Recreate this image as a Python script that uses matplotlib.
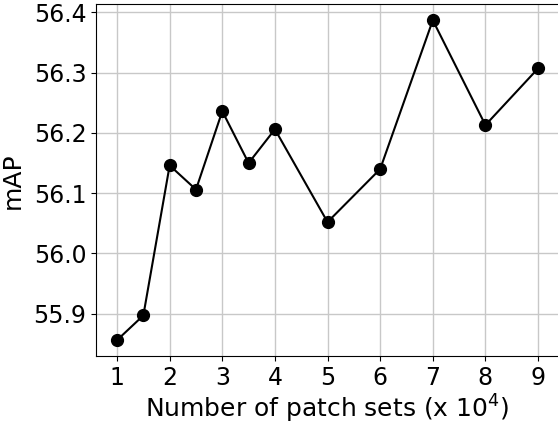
import matplotlib.pyplot as plt

# mAP for each number of patch sets (x 10^4)
patch_sets = [1, 1.5, 2, 2.5, 3, 3.5, 4, 5, 6, 7, 8, 9]
map_scores = [55.856, 55.897, 56.146, 56.106, 56.236, 56.150,
              56.206, 56.052, 56.140, 56.387, 56.213, 56.307]

fig = plt.figure(figsize=(5.58, 4.25), dpi=100)
ax = fig.add_axes([0.172, 0.162, 0.83, 0.828])

ax.plot(patch_sets, map_scores, color='black', marker='o', markersize=8.5, linewidth=1.5)

ax.set_xticks(range(1, 10))
ax.set_yticks([55.9, 56.0, 56.1, 56.2, 56.3, 56.4])
ax.tick_params(labelsize=17)
ax.set_xlabel(r"Number of patch sets (x $10^4$)", fontsize=18, labelpad=2)
ax.set_ylabel("mAP", fontsize=18, labelpad=6)
ax.grid(True, color='#c8c8c8', linewidth=1)

plt.savefig("out.png", dpi=100)
